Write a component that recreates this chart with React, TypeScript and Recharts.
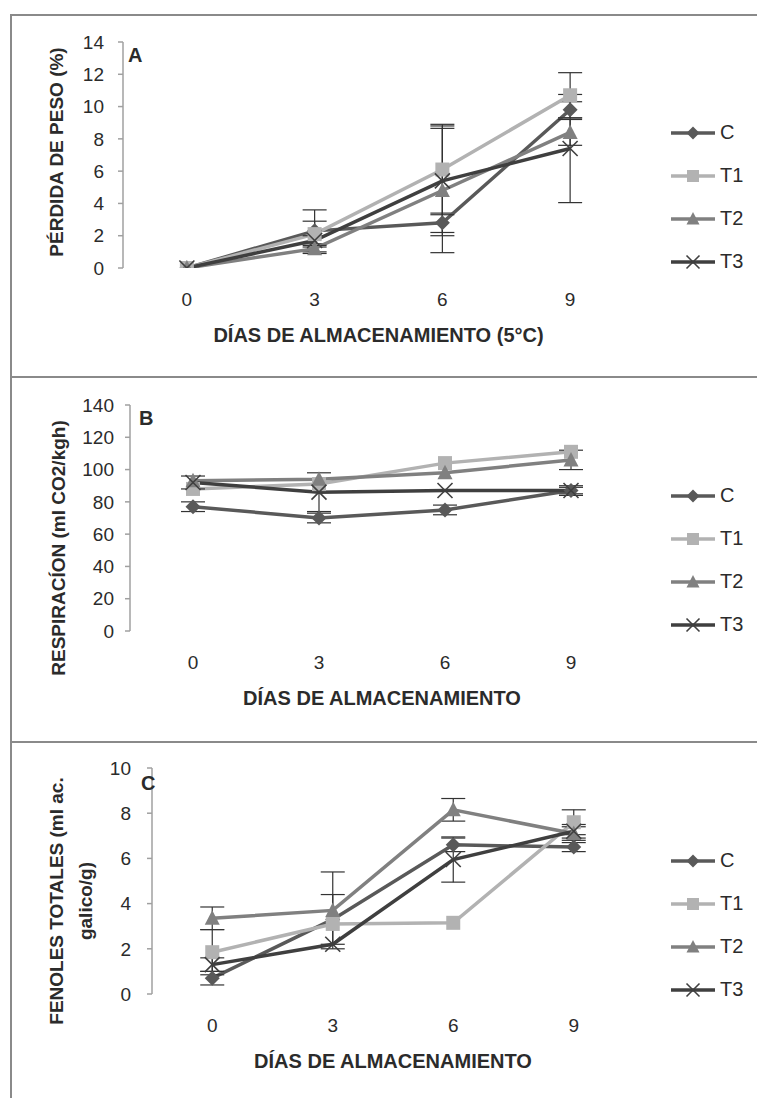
import React from 'react';
import { LineChart, Line, XAxis, YAxis, ErrorBar, Legend } from 'recharts';

// días de almacenamiento
const dias = [0, 3, 6, 9];
// límites entre categorías (marcas del eje X)
const limitesDias = [-1.5, 1.5, 4.5, 7.5, 10.5];

// A - pérdida de peso (%)
const pesoC = [0, 2.3, 2.8, 9.8];
const pesoT1 = [0, 2.1, 6.1, 10.7];
const pesoT2 = [0, 1.2, 4.8, 8.4];
const pesoT3 = [0, 1.7, 5.4, 7.4];
const pesoErrC = [null, 1.3, 0.6, 0.5];
const pesoErrT1 = [null, 0.8, 2.8, 1.4];
const pesoErrT2 = [null, 0.3, 3.85, 0.8];
const pesoErrT3 = [null, 0.3, 3.4, 3.35];
const ticksPeso = [0, 2, 4, 6, 8, 10, 12, 14];

// B - respiración (ml CO2/kgh)
const respC = [77, 70, 75, 87];
const respT1 = [88, 91, 104, 111];
const respT2 = [93, 94, 98, 106];
const respT3 = [92, 86, 87, 87];
const respErrC = [3, 3, 3, 2];
const respErrT1 = [null, null, null, null];
const respErrT2 = [null, null, null, 6];
const respErrT3 = [4, 12, null, 3];
const ticksResp = [0, 20, 40, 60, 80, 100, 120, 140];

// C - fenoles totales (ml ac. galico/g)
const fenC = [0.7, 3.3, 6.6, 6.5];
const fenT1 = [1.85, 3.1, 3.15, 7.6];
const fenT2 = [3.35, 3.7, 8.15, 7.1];
const fenT3 = [1.3, 2.2, 5.95, 7.2];
const fenErrC = [0.3, 1.1, 0.3, 0.2];
const fenErrT1 = [1.0, null, null, 0.55];
const fenErrT2 = [0.5, 1.7, 0.5, 0.3];
const fenErrT3 = [0.3, null, 1.0, 0.3];
const ticksFen = [0, 2, 4, 6, 8, 10];

const series = ['C', 'T1', 'T2', 'T3'];
const COLORS: Record<string, string> = { C: '#595959', T1: '#b2b2b2', T2: '#808080', T3: '#3f3f3f' };
const SHAPES: Record<string, string> = { C: 'diamond', T1: 'square', T2: 'triangle', T3: 'x' };
const AXIS = '#a0a0a0';
const TEXT = '#2b2b2b';
const FONT = "'Liberation Sans', Arial, sans-serif";

function buildRows(vals: number[][], errs: (number | null)[][]) {
  return dias.map((d, i) => {
    const row: any = { dia: d };
    series.forEach((s, k) => {
      row[s] = vals[k][i];
      row['e' + s] = errs[k][i];
    });
    return row;
  });
}

const pesoRows = buildRows([pesoC, pesoT1, pesoT2, pesoT3], [pesoErrC, pesoErrT1, pesoErrT2, pesoErrT3]);
const respRows = buildRows([respC, respT1, respT2, respT3], [respErrC, respErrT1, respErrT2, respErrT3]);
const fenRows = buildRows([fenC, fenT1, fenT2, fenT3], [fenErrC, fenErrT1, fenErrT2, fenErrT3]);

function Marker({ shape, cx, cy, color, s = 7.5 }: any) {
  if (cx == null || cy == null) return null;
  if (shape === 'diamond') {
    return <polygon points={`${cx},${cy - s} ${cx + s},${cy} ${cx},${cy + s} ${cx - s},${cy}`} fill={color} />;
  }
  if (shape === 'square') {
    return <rect x={cx - s + 0.5} y={cy - s + 0.5} width={2 * s - 1} height={2 * s - 1} fill={color} />;
  }
  if (shape === 'triangle') {
    return <polygon points={`${cx},${cy - s - 0.5} ${cx + s},${cy + s - 1} ${cx - s},${cy + s - 1}`} fill={color} />;
  }
  return (
    <g stroke={color} strokeWidth={1.6}>
      <line x1={cx - s} y1={cy - s} x2={cx + s} y2={cy + s} />
      <line x1={cx - s} y1={cy + s} x2={cx + s} y2={cy - s} />
    </g>
  );
}

const renderLegend = (props: any) => (
  <div style={{ display: 'flex', flexDirection: 'column' }}>
    {(props.payload || []).map((p: any) => (
      <div key={p.value} style={{ height: 43, display: 'flex', alignItems: 'center' }}>
        <svg width={50} height={20}>
          <line x1={3} y1={10} x2={47} y2={10} stroke={COLORS[p.value]} strokeWidth={3.5} />
          <Marker shape={SHAPES[p.value]} cx={25} cy={10} color={COLORS[p.value]} s={6.5} />
        </svg>
        <span style={{ fontFamily: FONT, fontSize: 20, color: TEXT, marginLeft: 2 }}>{p.value}</span>
      </div>
    ))}
  </div>
);

const panels = [
  {
    top: 14, height: 363, plotTop: 42, plotBottom: 268, plotLeft: 123, gap: 19,
    rows: pesoRows, yMax: 14, ticks: ticksPeso,
    yTitle: ['PÉRDIDA DE PESO (%)'], yTitleX: 56, yTitleY: 152,
    xTitle: 'DÍAS DE ALMACENAMIENTO (5°C)', letter: 'A', letterX: 128, letterY: 62,
  },
  {
    top: 377, height: 365, plotTop: 405, plotBottom: 631, plotLeft: 130, gap: 16,
    rows: respRows, yMax: 140, ticks: ticksResp,
    yTitle: ['RESPIRACÍON (ml CO2/kgh)'], yTitleX: 58, yTitleY: 548,
    xTitle: 'DÍAS DE ALMACENAMIENTO', letter: 'B', letterX: 139, letterY: 425,
  },
  {
    top: 742, height: 356, plotTop: 768, plotBottom: 994, plotLeft: 152, gap: 21,
    rows: fenRows, yMax: 10, ticks: ticksFen,
    yTitle: ['FENOLES TOTALES (ml ac.', 'galico/g)'], yTitleX: 56, yTitleY: 901,
    xTitle: 'DÍAS DE ALMACENAMIENTO', letter: 'C', letterX: 141, letterY: 790,
  },
];

function Panel({ cfg }: any) {
  const yAxisWidth = 60;
  const labelAxisHeight = 80;
  const margin = {
    top: cfg.plotTop - cfg.top,
    left: cfg.plotLeft - yAxisWidth,
    right: 757 - 634,
    bottom: cfg.height - (cfg.plotBottom - cfg.top) - labelAxisHeight,
  };
  const ty = cfg.yTitleY - cfg.top;
  const yLabel = () => (
    <g>
      <text
        transform={`rotate(-90 ${cfg.yTitleX} ${ty})`}
        x={cfg.yTitleX}
        y={ty}
        textAnchor="middle"
        dominantBaseline="central"
        fontFamily={FONT}
        fontWeight="bold"
        fontSize={19}
        fill={TEXT}
      >
        {cfg.yTitle.map((l: string, i: number) => (
          <tspan key={i} x={cfg.yTitleX} dy={i === 0 ? 0 : 29}>{l}</tspan>
        ))}
      </text>
      <text x={cfg.letterX} y={cfg.letterY - cfg.top} fontFamily={FONT} fontWeight="bold" fontSize={20} fill={TEXT}>
        {cfg.letter}
      </text>
    </g>
  );
  const xLabel = (props: any) => {
    const vb = props.viewBox || {};
    return (
      <text
        x={vb.x + vb.width / 2}
        y={vb.y + 67}
        textAnchor="middle"
        dominantBaseline="central"
        fontFamily={FONT}
        fontWeight="bold"
        fontSize={20}
        fill={TEXT}
      >
        {cfg.xTitle}
      </text>
    );
  };
  return (
    <div style={{ position: 'absolute', left: 0, top: cfg.top }}>
      <LineChart width={757} height={cfg.height} data={cfg.rows} margin={margin}>
        <XAxis
          xAxisId="band"
          type="number"
          dataKey="dia"
          domain={[-1.5, 10.5]}
          ticks={limitesDias}
          allowDataOverflow
          height={0}
          tick={false}
          tickSize={6}
          axisLine={{ stroke: AXIS, strokeWidth: 1.5 }}
          tickLine={{ stroke: AXIS, strokeWidth: 1.5 }}
        />
        <XAxis
          xAxisId="dias"
          type="number"
          dataKey="dia"
          domain={[-1.5, 10.5]}
          ticks={dias}
          allowDataOverflow
          height={labelAxisHeight}
          axisLine={false}
          tickLine={false}
          tickSize={0}
          tickMargin={25}
          tick={{ fill: TEXT, fontSize: 19, fontFamily: FONT }}
          label={{ content: xLabel }}
        />
        <YAxis
          type="number"
          domain={[0, cfg.yMax]}
          ticks={cfg.ticks}
          allowDataOverflow
          interval={0}
          width={yAxisWidth}
          tickSize={5}
          tickMargin={cfg.gap - 5}
          axisLine={{ stroke: AXIS, strokeWidth: 1.5 }}
          tickLine={{ stroke: AXIS, strokeWidth: 1.5 }}
          tick={{ fill: TEXT, fontSize: 19, fontFamily: FONT }}
          label={{ content: yLabel }}
        />
        <Legend
          layout="vertical"
          align="center"
          verticalAlign="middle"
          content={renderLegend}
          wrapperStyle={{ left: 668, top: 97, width: 89 }}
        />
        {series.map((s) => (
          <Line
            key={s}
            xAxisId="band"
            dataKey={s}
            name={s}
            stroke={COLORS[s]}
            strokeWidth={3.5}
            activeDot={false}
            isAnimationActive={false}
            dot={(p: any) => <Marker key={`${s}-${p.index}`} shape={SHAPES[s]} cx={p.cx} cy={p.cy} color={COLORS[s]} />}
          >
            <ErrorBar dataKey={'e' + s} direction="y" width={12} stroke="#333" strokeWidth={1.2} isAnimationActive={false} />
          </Line>
        ))}
      </LineChart>
    </div>
  );
}

export default function App() {
  return (
    <div style={{ position: 'absolute', left: 0, top: 0, width: 757, height: 1098, background: '#fff', overflow: 'hidden' }}>
      <div style={{ position: 'absolute', left: 10, top: 14, width: 760, height: 1100, borderLeft: '2px solid #8a8a8a', borderTop: '2px solid #8a8a8a' }} />
      <div style={{ position: 'absolute', left: 10, top: 376, width: 760, height: 0, borderTop: '2px solid #8a8a8a' }} />
      <div style={{ position: 'absolute', left: 10, top: 741, width: 760, height: 0, borderTop: '2px solid #8a8a8a' }} />
      {panels.map((cfg, i) => (
        <Panel key={i} cfg={cfg} />
      ))}
    </div>
  );
}
